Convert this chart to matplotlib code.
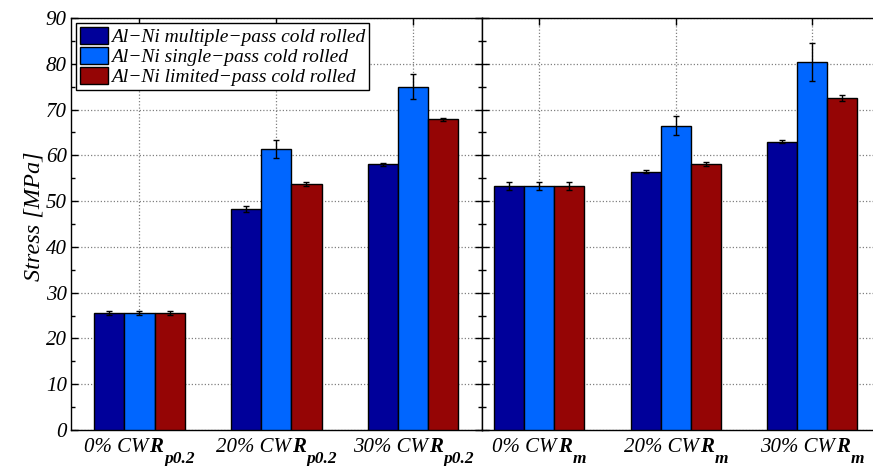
import numpy as np
import matplotlib.pyplot as plt
from matplotlib.ticker import MultipleLocator

plt.rcParams['font.family'] = ['Liberation Serif', 'DejaVu Serif']
plt.rcParams['font.style'] = 'italic'

# ---- data ----
series = ['Al\u2212Ni multiple\u2212pass cold rolled',
          'Al\u2212Ni single\u2212pass cold rolled',
          'Al\u2212Ni limited\u2212pass cold rolled']
cw = ['0% CW', '20% CW', '30% CW']

# yield strength Rp0.2, one row per series, columns = cold work
rp02 = [[25.5, 48.3, 58.0],
        [25.5, 61.4, 75.0],
        [25.5, 53.7, 67.9]]
rp02_err = [[0.4, 0.7, 0.3],
            [0.4, 2.0, 2.7],
            [0.4, 0.4, 0.3]]

# tensile strength Rm
rm = [[53.3, 56.4, 63.0],
      [53.3, 66.5, 80.4],
      [53.3, 58.1, 72.5]]
rm_err = [[0.8, 0.3, 0.3],
          [0.8, 2.1, 4.2],
          [0.8, 0.5, 0.6]]

colors = ['#00009a', '#0066ff', '#950505']
w = 0.22
tick_fs = 15
sub_fs = 12.5


def draw(ax, vals, errs, sub):
    x = np.arange(1, len(cw) + 1)
    for i in range(len(series)):
        ax.bar(x + (i - 1) * w, vals[i], w, yerr=errs[i], color=colors[i],
               edgecolor='black', linewidth=1, label=series[i], zorder=3,
               error_kw=dict(ecolor='black', elinewidth=1, capsize=2,
                             capthick=1, zorder=4))
    ax.set_xticks(x)
    ax.set_xticklabels([])
    ax.set_ylim(0, 90)
    ax.yaxis.set_major_locator(MultipleLocator(10))
    ax.yaxis.set_minor_locator(MultipleLocator(5))
    ax.grid(True, which='major', linestyle=(0, (1, 1.6)), color='0.5',
            linewidth=0.9)
    ax.set_axisbelow(True)
    ax.tick_params(which='both', direction='in', top=True, right=True,
                   width=1, pad=3)
    ax.tick_params(which='major', length=5)
    ax.tick_params(which='minor', length=3)
    ax.tick_params(axis='x', which='minor', length=0)
    for s in ax.spines.values():
        s.set_linewidth(1)

    # tick labels: "0% CW" + bold R + lowered subscript
    parts = []
    for xi, c in zip(x, cw):
        t1 = ax.annotate(c, xy=(xi, 0), xycoords=('data', 'axes fraction'),
                         xytext=(0, -15.8), textcoords='offset points',
                         ha='left', va='baseline', fontsize=tick_fs,
                         annotation_clip=False)
        t2 = ax.annotate('R', xy=(1, 0), xycoords=t1, xytext=(0.8, 0),
                         textcoords='offset points', ha='left', va='bottom',
                         fontsize=tick_fs, fontweight='bold')
        t3 = ax.annotate(sub, xy=(1, 0), xycoords=t2, xytext=(0.6, -7),
                         textcoords='offset points', ha='left', va='bottom',
                         fontsize=sub_fs, fontweight='bold')
        parts.append((t1, t3))
    return parts


fig = plt.figure(figsize=(8.73, 4.66), dpi=100)
W, H = 873.0, 466.0
ax1 = fig.add_axes([71 / W, 36 / H, (481.7 - 71) / W, 412 / H])
ax2 = fig.add_axes([481.7 / W, 36 / H, (880.6 - 481.7) / W, 412 / H])

labels = draw(ax1, rp02, rp02_err, 'p0.2') + draw(ax2, rm, rm_err, 'm')
ax1.set_xlim(0.5, 3.5)
ax2.set_xlim(0.58, 3.5)

ax1.tick_params(axis='y', labelsize=15)
ax2.tick_params(axis='y', labelleft=False, right=False, which='both')
ax2.spines['right'].set_visible(False)
ax1.set_ylabel('Stress [MPa]', fontsize=17.5)
ax1.yaxis.set_label_coords(-0.065, 0.52)

ax1.legend(loc='upper left', fontsize=14, frameon=True, fancybox=False,
           edgecolor='black', framealpha=1, labelspacing=0.05,
           handlelength=1.45, handleheight=0.95, handletextpad=0.15,
           borderpad=0.2, borderaxespad=0.25)
ax1.get_legend().get_frame().set_linewidth(1)

# centre each composite tick label under its tick
fig.canvas.draw()
r = fig.canvas.get_renderer()
for t1, t3 in labels:
    b1 = t1.get_window_extent(r)
    b3 = t3.get_window_extent(r)
    shift = -(b3.x1 - b1.x0) / 2 * 72 / fig.dpi
    t1.xyann = (shift, t1.xyann[1])

fig.savefig('out.png', dpi=100)
